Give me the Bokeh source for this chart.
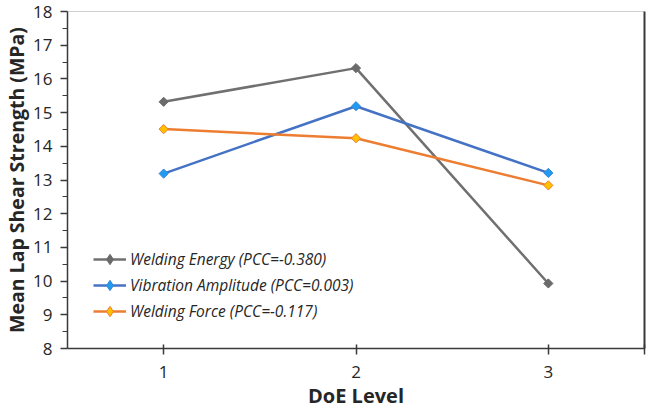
import math
from bokeh.plotting import figure
from bokeh.models import Range1d, FixedTicker, Legend, LegendItem, LinearAxis
from bokeh.embed import file_html
from bokeh.resources import INLINE

levels = [1, 2, 3]
energy = [15.32, 16.32, 9.93]
amplitude = [13.19, 15.19, 13.21]
force = [14.51, 14.24, 12.84]
labels = ["Welding Energy (PCC=-0.380)", "Vibration Amplitude (PCC=0.003)", "Welding Force (PCC=-0.117)"]
y_ticks = list(range(8, 19))

FONT = "Open Sans"
AX = "#3a3a3a"
TXT = "#262626"
NAN = float("nan")

p = figure(width=646, height=411, output_backend="svg", toolbar_location=None,
           x_range=Range1d(0.5, 3.5), y_range=Range1d(8, 18),
           min_border_left=65, min_border_right=2, min_border_top=11, min_border_bottom=63)
p.outline_line_color = "#d0d0d0"
p.outline_line_width = 1
p.xgrid.visible = False
p.ygrid.visible = False

series = [
    (energy, "#707070", "#6a6a6a", "#6a6a6a"),
    (amplitude, "#4472c4", "#1f9bf0", "#3a86d6"),
    (force, "#ed7d31", "#ffc000", "#ed7d31"),
]
items = []
for (vals, lc, mf, ml), lab in zip(series, labels):
    p.line(levels, vals, line_color=lc, line_width=2.5)
    p.scatter(levels, vals, marker="square", angle=math.pi / 4, size=6.5,
              fill_color=mf, line_color=ml, line_width=1)
    # legend-only glyphs (not plotted) so the key shows a diamond
    l1 = p.line([NAN], [NAN], line_color=lc, line_width=2.5)
    l2 = p.scatter([NAN], [NAN], marker="diamond", size=10, fill_color=mf, line_color=ml, line_width=1)
    items.append(LegendItem(label=lab, renderers=[l1, l2]))

legend = Legend(items=items, location=(26, 24), padding=0, margin=0, spacing=0,
                label_height=26, glyph_height=26, glyph_width=33, label_standoff=4,
                border_line_color=None, background_fill_alpha=0,
                label_text_font=FONT, label_text_font_style="italic",
                label_text_font_size="15.5px", label_text_color=TXT)
p.add_layout(legend, "center")

xa = p.xaxis[0]
xa.ticker = FixedTicker(ticks=[1, 2, 3, 3.5])
xa.major_label_overrides = {3.5: ""}
xa.major_tick_in = 4
xa.major_tick_out = 6
xa.minor_tick_out = 0
xa.minor_tick_in = 0
xa.axis_line_color = AX
xa.axis_line_width = 1.5
xa.major_tick_line_color = AX
xa.major_tick_line_width = 1.5
xa.major_label_text_font = FONT
xa.major_label_text_font_size = "17px"
xa.major_label_text_color = TXT
xa.major_label_standoff = 11
xa.axis_label = "DoE Level"
xa.axis_label_text_font = FONT
xa.axis_label_text_font_style = "bold"
xa.axis_label_text_font_size = "20px"
xa.axis_label_text_color = TXT
xa.axis_label_standoff = 1

ya = p.yaxis[0]
ya.ticker = FixedTicker(ticks=y_ticks, minor_ticks=[v + 0.5 for v in y_ticks[:-1]])
ya.major_tick_in = 0
ya.major_tick_out = 7
ya.minor_tick_in = 0
ya.minor_tick_out = 5
ya.axis_line_color = AX
ya.axis_line_width = 1.5
ya.major_tick_line_color = AX
ya.major_tick_line_width = 1.5
ya.minor_tick_line_color = AX
ya.minor_tick_line_width = 1.2
ya.major_label_text_font = FONT
ya.major_label_text_font_size = "17px"
ya.major_label_text_color = TXT
ya.major_label_standoff = 8
ya.axis_label = "Mean Lap Shear Strength (MPa)"
ya.axis_label_text_font = FONT
ya.axis_label_text_font_style = "bold"
ya.axis_label_text_font_size = "19.5px"
ya.axis_label_text_color = TXT
ya.axis_label_standoff = 0

ra = LinearAxis(ticker=FixedTicker(ticks=[]), major_tick_in=0, major_tick_out=0,
                minor_tick_in=0, minor_tick_out=0, axis_line_color=AX, axis_line_width=2,
                major_label_standoff=0)
p.add_layout(ra, "right")

open("out.html", "w").write(file_html(p, INLINE))
